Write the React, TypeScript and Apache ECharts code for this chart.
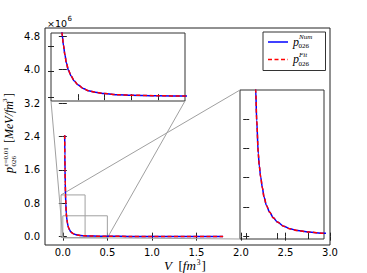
import React, { useEffect, useRef } from "react";
import * as echarts from "echarts";

// ---- data (pressure in units of 10^6 MeV/fm^3) ----
const V = [0.021, 0.023, 0.025, 0.0275, 0.0305, 0.0337, 0.0388, 0.042, 0.0465, 0.052, 0.0572, 0.065, 0.075, 0.087, 0.1, 0.12, 0.14, 0.165, 0.2, 0.25, 0.3, 0.4, 0.5, 0.75, 1.0, 1.4, 1.8];
const pNum = [2.43, 1.95, 1.6, 1.28, 1.0, 0.79, 0.563, 0.48, 0.404, 0.33, 0.268, 0.21, 0.165, 0.125, 0.097, 0.068, 0.05, 0.038, 0.028, 0.019, 0.0155, 0.011, 0.0088, 0.006, 0.0045, 0.0032, 0.0025];
const pFit = [2.43, 1.95, 1.6, 1.28, 1.0, 0.79, 0.563, 0.48, 0.404, 0.33, 0.268, 0.21, 0.165, 0.125, 0.097, 0.068, 0.05, 0.038, 0.028, 0.019, 0.0155, 0.011, 0.0088, 0.006, 0.0045, 0.0032, 0.0025];

const mainXRange = [-0.2, 3.0];
const mainYRange = [-0.2, 5.0];
const mainXTicks = [0, 0.5, 1.0, 1.5, 2.0, 2.5, 3.0];
const mainYTicks = [0, 0.8, 1.6, 2.4, 3.2, 4.0, 4.8];

const insetAXRange = [0, 0.5];
const insetAYRange = [-0.03, 0.5];
const insetAXTicks = [0.1, 0.2, 0.3, 0.4];
const insetAYTicks = [0, 0.2, 0.4];

const insetBXRange = [-0.02, 0.25];
const insetBYRange = [-0.02, 1.0];
const insetBXTicks = [0, 0.1, 0.2];
const insetBYTicks = [0, 0.2, 0.4, 0.6, 0.8];

const seriesNames = ["Num", "Fit"];
const subscriptText = "026";
const yLabelSup = "\u03b5=0.01";
const offsetExponent = "6";

// ---- styling ----
const TICK_FONT = '"DejaVu Sans", sans-serif';
const SERIF = '"Liberation Serif", "DejaVu Serif", serif';
const FRAME = "#222";
const GUIDE = "#a0a0a0";
const BLUE = "#0000ff";
const RED = "#ff0000";
const DASH = [4, 2.5];

function xAx(gridIndex: number, range: number[], ticks: number[], position: string, labels: boolean, tickLen: number) {
  return {
    type: "value",
    gridIndex,
    position,
    min: range[0],
    max: range[1],
    axisLine: { show: false },
    splitLine: { show: false },
    axisTick: { show: true, inside: true, length: tickLen, customValues: ticks, lineStyle: { color: FRAME, width: 1 } },
    axisLabel: labels
      ? { show: true, customValues: ticks, formatter: (v: number) => v.toFixed(1), fontFamily: TICK_FONT, fontSize: 10, color: "#000", margin: 2.5 }
      : { show: false },
  };
}
function yAx(gridIndex: number, range: number[], ticks: number[], position: string, labels: boolean, tickLen: number) {
  return {
    type: "value",
    gridIndex,
    position,
    min: range[0],
    max: range[1],
    axisLine: { show: false },
    splitLine: { show: false },
    axisTick: { show: true, inside: true, length: tickLen, customValues: ticks, lineStyle: { color: FRAME, width: 1 } },
    axisLabel: labels
      ? { show: true, customValues: ticks, formatter: (v: number) => v.toFixed(1), fontFamily: TICK_FONT, fontSize: 10, color: "#000", margin: 5 }
      : { show: false },
  };
}

function lineSeries(name: string, vals: number[], axisIndex: number, color: string, dashed: boolean) {
  return {
    type: "line",
    name,
    data: V.map((v, i) => [v, vals[i]]),
    xAxisIndex: axisIndex,
    yAxisIndex: axisIndex,
    symbol: "none",
    smooth: 0.3,
    smoothMonotone: "x",
    clip: true,
    z: dashed ? 4 : 3,
    itemStyle: { color },
    lineStyle: { color, width: 1.5, type: dashed ? DASH : "solid" },
  };
}

function txt(text: string, x: number, y: number, size: number, family: string, italic: boolean) {
  return {
    type: "text",
    x,
    y,
    z: 20,
    style: {
      text,
      fontSize: size,
      fontFamily: family,
      fontStyle: italic ? "italic" : "normal",
      fill: "#000",
      align: "left",
      verticalAlign: "middle",
      textAlign: "left",
      textVerticalAlign: "middle",
    },
  };
}

export default function App() {
  const ref = useRef<HTMLDivElement>(null);
  useEffect(() => {
    if (!ref.current) return;
    const chart = echarts.init(ref.current, null, { renderer: "svg" });
    const option: any = {
      animation: false,
      backgroundColor: "#fff",
      grid: [
        { left: 45, top: 28, width: 285, height: 217, show: true, backgroundColor: "#fff", borderColor: FRAME, borderWidth: 1, containLabel: false, outerBoundsMode: "none" },
        { left: 51, top: 33, width: 134, height: 68, show: true, backgroundColor: "#fff", borderColor: "#333", borderWidth: 1, containLabel: false, outerBoundsMode: "none" },
        { left: 240, top: 90, width: 84, height: 149, show: true, backgroundColor: "#fff", borderColor: "#333", borderWidth: 1, containLabel: false, outerBoundsMode: "none" },
      ],
      xAxis: [
        xAx(0, mainXRange, mainXTicks, "bottom", true, 4),
        xAx(0, mainXRange, mainXTicks, "top", false, 4),
        xAx(1, insetAXRange, insetAXTicks, "bottom", false, 3),
        xAx(1, insetAXRange, insetAXTicks, "top", false, 3),
        xAx(2, insetBXRange, insetBXTicks, "bottom", false, 3),
        xAx(2, insetBXRange, insetBXTicks, "top", false, 3),
      ],
      yAxis: [
        yAx(0, mainYRange, mainYTicks, "left", true, 4),
        yAx(0, mainYRange, mainYTicks, "right", false, 4),
        yAx(1, insetAYRange, insetAYTicks, "left", false, 3),
        yAx(1, insetAYRange, insetAYTicks, "right", false, 3),
        yAx(2, insetBYRange, insetBYTicks, "left", false, 3),
        yAx(2, insetBYRange, insetBYTicks, "right", false, 3),
      ],
      series: [
        lineSeries(seriesNames[0], pNum, 0, BLUE, false),
        lineSeries(seriesNames[1], pFit, 0, RED, true),
        lineSeries(seriesNames[0], pNum, 2, BLUE, false),
        lineSeries(seriesNames[1], pFit, 2, RED, true),
        lineSeries(seriesNames[0], pNum, 4, BLUE, false),
        lineSeries(seriesNames[1], pFit, 4, RED, true),
      ],
    };
    chart.setOption(option);

    const px = (g: number, x: number, y: number) => chart.convertToPixel({ gridIndex: g } as any, [x, y]) as number[];
    // zoomed regions on the main axes
    const aUL = px(0, insetAXRange[0], insetAYRange[1]);
    const aLR = px(0, insetAXRange[1], insetAYRange[0]);
    const bUL = px(0, insetBXRange[0], insetBYRange[1]);
    const bLR = px(0, insetBXRange[1], insetBYRange[0]);
    // inset corners
    const iaLL = px(1, insetAXRange[0], insetAYRange[0]);
    const iaLR = px(1, insetAXRange[1], insetAYRange[0]);
    const ibUL = px(2, insetBXRange[0], insetBYRange[1]);
    const ibLL = px(2, insetBXRange[0], insetBYRange[0]);

    const guideLine = (p: number[], q: number[]) => ({
      type: "line",
      z: 1,
      shape: { x1: p[0], y1: p[1], x2: q[0], y2: q[1] },
      style: { stroke: GUIDE, lineWidth: 1 },
    });
    const guideRect = (ul: number[], lr: number[]) => ({
      type: "rect",
      z: 1,
      shape: { x: ul[0], y: ul[1], width: lr[0] - ul[0], height: lr[1] - ul[1] },
      style: { fill: "none", stroke: GUIDE, lineWidth: 1 },
    });

    // y label: p^{eps}_{026} [MeV/fm^3], rotated
    const yLabel = {
      type: "group",
      x: 3,
      y: 173,
      rotation: Math.PI / 2,
      z: 20,
      children: [
        txt("p", 0, 6, 12, SERIF, true),
        txt(yLabelSup, 6.5, 2.5, 7, SERIF, false),
        txt(subscriptText, 6.5, 11, 7, SERIF, false),
        txt("[", 30, 6, 12, SERIF, false),
        txt("MeV/fm", 34, 6, 12, SERIF, true),
        txt("3", 71, 1.5, 7, SERIF, false),
        txt("]", 76, 6, 12, SERIF, false),
      ],
    };
    // x label: V [fm^3] as one rich text
    const xLabel = {
      type: "text",
      x: 185,
      y: 265.5,
      z: 20,
      style: {
        text: "{i|V}  [{i|fm}{s|3}]",
        fontSize: 13,
        fontFamily: SERIF,
        fill: "#000",
        align: "center",
        verticalAlign: "middle",
        textAlign: "center",
        textVerticalAlign: "middle",
        rich: {
          i: { fontSize: 13, fontFamily: SERIF, fontStyle: "italic", fill: "#000" },
          s: { fontSize: 7.5, fontFamily: SERIF, fill: "#000", padding: [0, 1, 6, 1] },
        },
      },
    };
    const offsetText = {
      type: "group",
      x: 47,
      y: 23,
      z: 20,
      children: [txt("\u00d710", 0, 0, 9.5, TICK_FONT, false), txt(offsetExponent, 20.5, -4, 7, TICK_FONT, false)],
    };

    // legend box, keys and labels
    const LX = 263, LY = 32, LW = 62.5, LH = 38.5;
    const legendBox = {
      type: "rect",
      z: 15,
      shape: { x: LX, y: LY, width: LW, height: LH },
      style: { fill: "#fff", stroke: "#333", lineWidth: 1 },
    };
    const legendKeys = [0, 1].map((i) => ({
      type: "line",
      z: 16,
      shape: { x1: LX + 5, y1: LY + 10 + i * 17.5, x2: LX + 25, y2: LY + 10 + i * 17.5 },
      style: { stroke: i === 0 ? BLUE : RED, lineWidth: 1.5, lineDash: i === 0 ? null : DASH },
    }));
    const legendLabels = [0, 1].map((i) => ({
      type: "group",
      x: LX + 30,
      y: LY + 9.5 + i * 17.5,
      z: 20,
      children: [
        txt("p", 0, 0, 12, SERIF, true),
        txt(seriesNames[i], 6, -4.5, 7, SERIF, true),
        txt(subscriptText, 5.5, 4.5, 7, SERIF, false),
      ],
    }));

    chart.setOption({
      graphic: [
        guideRect(aUL, aLR),
        guideRect(bUL, bLR),
        guideLine(iaLL, [aUL[0], aLR[1]]),
        guideLine(iaLR, aLR),
        guideLine(ibUL, bUL),
        guideLine(ibLL, [bUL[0], bLR[1]]),
        yLabel,
        xLabel,
        offsetText,
        legendBox,
        ...legendKeys,
        ...legendLabels,
      ],
    });
    return () => chart.dispose();
  }, []);
  return <div ref={ref} style={{ position: "absolute", left: 0, top: 0, width: 367, height: 273 }} />;
}
